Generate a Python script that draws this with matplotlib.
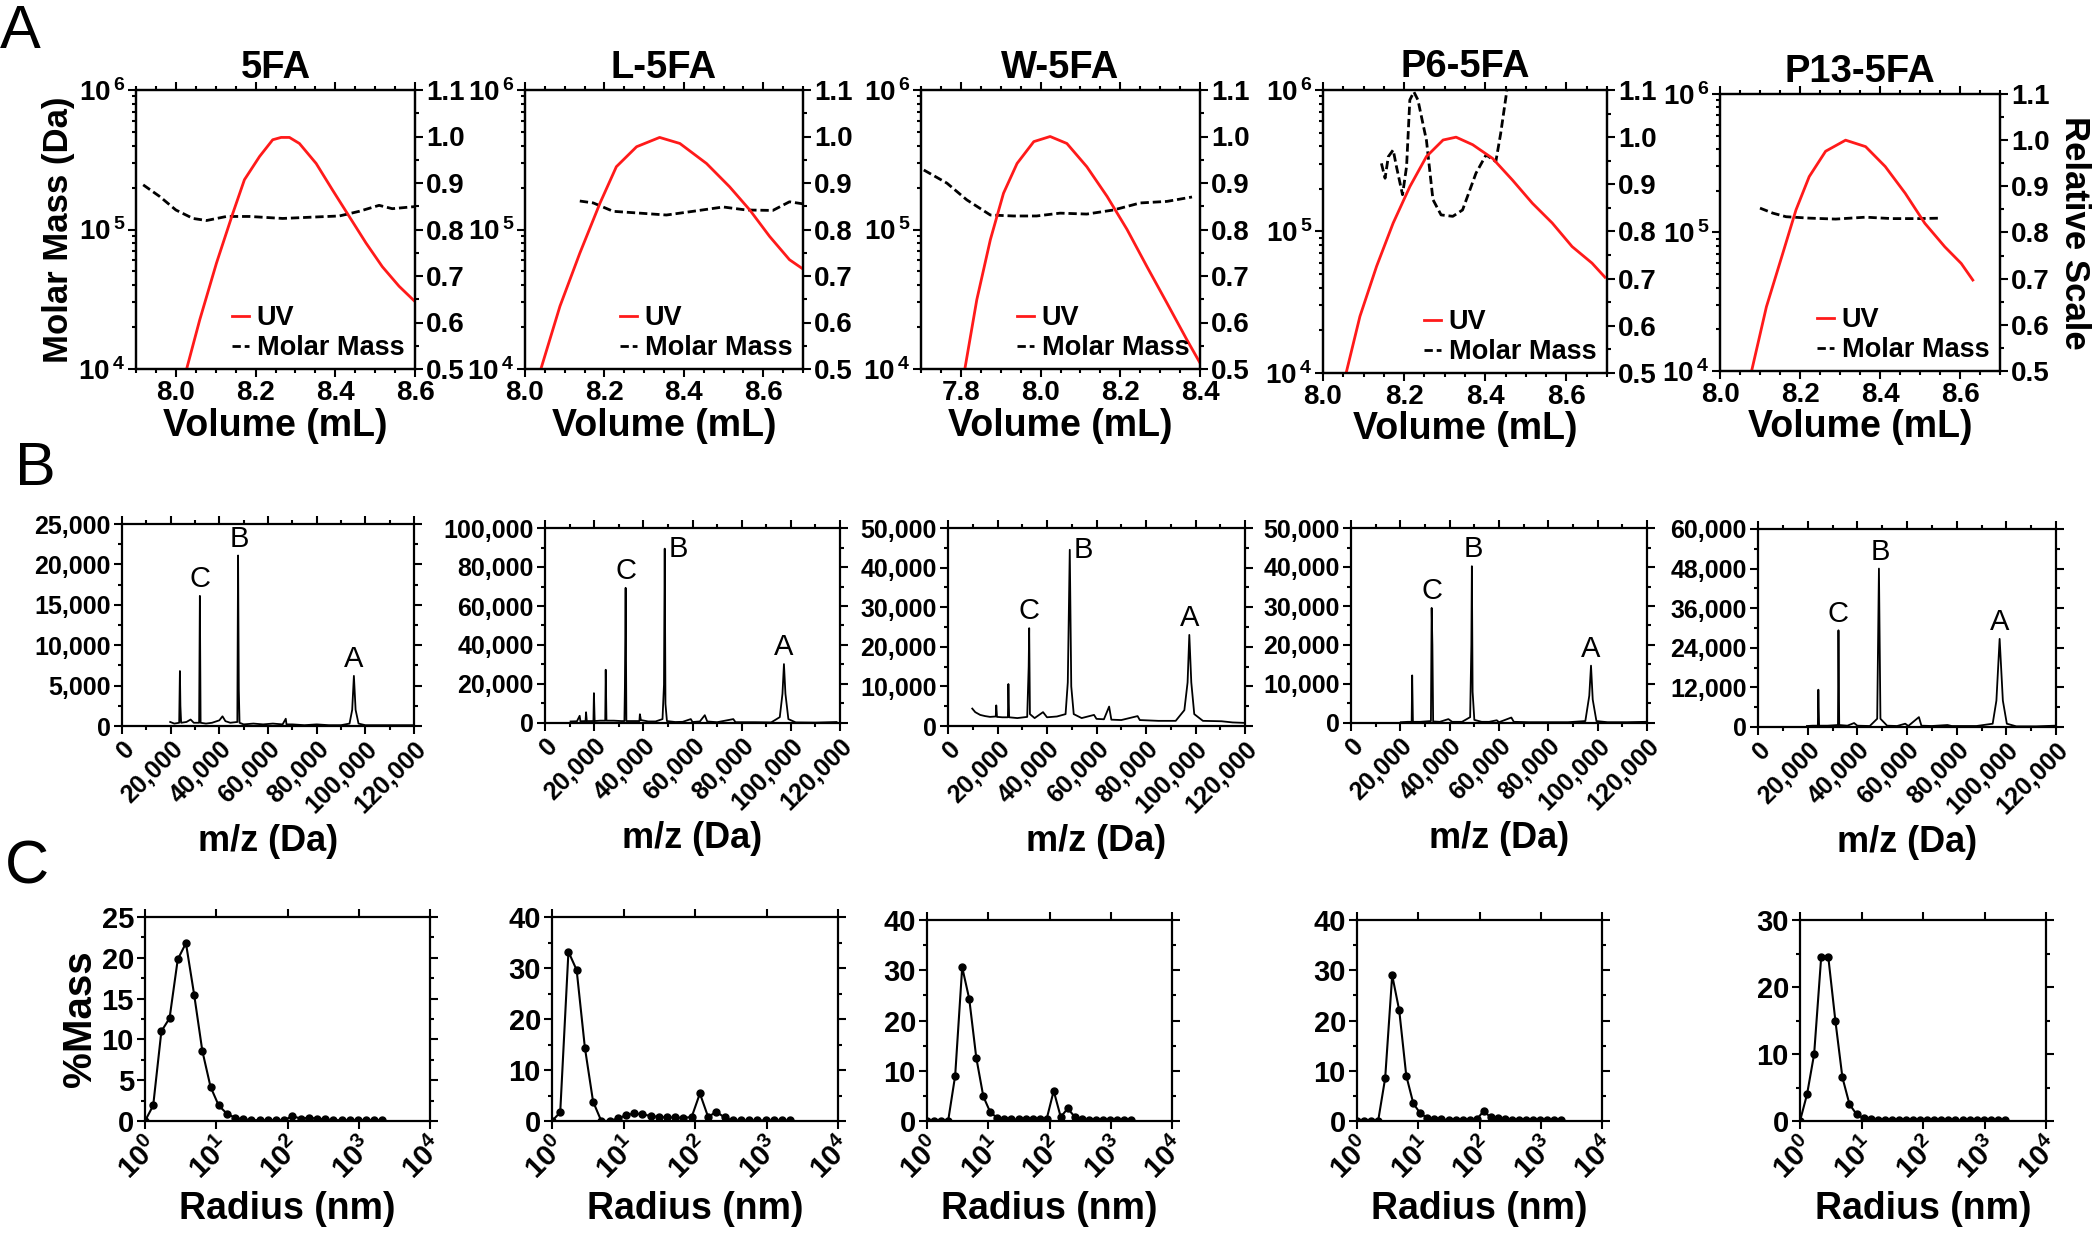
import matplotlib.pyplot as plt
from matplotlib.ticker import MultipleLocator, LogLocator, NullFormatter, FormatStrFormatter, FuncFormatter

plt.rcParams['font.family'] = ['Liberation Sans', 'DejaVu Sans']
plt.rcParams['font.weight'] = 'bold'
plt.rcParams['axes.labelweight'] = 'bold'
plt.rcParams['mathtext.fontset'] = 'custom'
plt.rcParams['mathtext.rm'] = 'Liberation Sans:bold'
plt.rcParams['mathtext.it'] = 'Liberation Sans:bold'
plt.rcParams['mathtext.bf'] = 'Liberation Sans:bold'
plt.rcParams['axes.linewidth'] = 1.6

samples = ['5FA', 'L-5FA', 'W-5FA', 'P6-5FA', 'P13-5FA']

# ---------- A: SEC-MALS (UV relative scale + molar mass) ----------
uv_x_5fa = [8.027, 8.06, 8.102, 8.143, 8.172, 8.21, 8.243, 8.264, 8.285, 8.31, 8.352, 8.393, 8.435, 8.477, 8.518, 8.56, 8.6]
uv_y_5fa = [0.5, 0.606, 0.728, 0.835, 0.907, 0.957, 0.993, 0.998, 0.998, 0.985, 0.942, 0.885, 0.828, 0.771, 0.72, 0.678, 0.645]
mm_x_5fa = [7.918, 7.96, 8.0, 8.043, 8.077, 8.127, 8.185, 8.268, 8.352, 8.41, 8.46, 8.51, 8.543, 8.6]
mm_y_5fa = [2.09e5, 1.72e5, 1.38e5, 1.2e5, 1.16e5, 1.24e5, 1.24e5, 1.2e5, 1.23e5, 1.25e5, 1.35e5, 1.49e5, 1.41e5, 1.46e5]

uv_x_l = [8.04, 8.088, 8.138, 8.189, 8.23, 8.281, 8.339, 8.39, 8.457, 8.515, 8.566, 8.616, 8.666, 8.7]
uv_y_l = [0.5, 0.635, 0.749, 0.857, 0.935, 0.978, 0.998, 0.985, 0.942, 0.892, 0.842, 0.785, 0.735, 0.715]
mm_x_l = [8.138, 8.172, 8.222, 8.289, 8.356, 8.423, 8.499, 8.557, 8.624, 8.666, 8.698]
mm_y_l = [1.6e5, 1.55e5, 1.35e5, 1.31e5, 1.27e5, 1.35e5, 1.45e5, 1.38e5, 1.37e5, 1.58e5, 1.53e5]

uv_x_w = [7.81, 7.84, 7.874, 7.907, 7.941, 7.983, 8.024, 8.066, 8.116, 8.167, 8.217, 8.267, 8.317, 8.367, 8.4]
uv_y_w = [0.5, 0.649, 0.778, 0.878, 0.942, 0.989, 1.0, 0.985, 0.935, 0.871, 0.8, 0.72, 0.642, 0.563, 0.513]
mm_x_w = [7.707, 7.765, 7.815, 7.874, 7.932, 7.99, 8.049, 8.116, 8.183, 8.25, 8.317, 8.38]
mm_y_w = [2.67e5, 2.15e5, 1.63e5, 1.27e5, 1.25e5, 1.25e5, 1.31e5, 1.29e5, 1.38e5, 1.55e5, 1.59e5, 1.71e5]

uv_x_p6 = [8.057, 8.091, 8.132, 8.173, 8.214, 8.255, 8.296, 8.328, 8.369, 8.418, 8.467, 8.516, 8.565, 8.614, 8.663, 8.695]
uv_y_p6 = [0.5, 0.62, 0.726, 0.818, 0.895, 0.959, 0.994, 1.0, 0.984, 0.955, 0.909, 0.86, 0.818, 0.768, 0.733, 0.703]
mm_x_p6 = [8.144, 8.153, 8.161, 8.173, 8.181, 8.196, 8.206, 8.214, 8.224, 8.234, 8.255, 8.271, 8.291, 8.32, 8.344, 8.377, 8.402, 8.426, 8.438, 8.451, 8.455]
mm_y_p6 = [3.03e5, 2.38e5, 3.38e5, 3.77e5, 2.88e5, 1.82e5, 2.88e5, 8.5e5, 9.7e5, 8.5e5, 4.4e5, 1.68e5, 1.31e5, 1.28e5, 1.42e5, 2.58e5, 3.48e5, 3.12e5, 4.94e5, 8.97e5, 1.1e6]

uv_x_p13 = [8.079, 8.116, 8.157, 8.19, 8.223, 8.264, 8.314, 8.364, 8.413, 8.463, 8.512, 8.562, 8.603, 8.632]
uv_y_p13 = [0.5, 0.639, 0.755, 0.849, 0.921, 0.976, 1.0, 0.986, 0.943, 0.885, 0.82, 0.769, 0.733, 0.697]
mm_x_p13 = [8.1, 8.132, 8.165, 8.223, 8.289, 8.364, 8.43, 8.496, 8.554]
mm_y_p13 = [1.5e5, 1.38e5, 1.3e5, 1.27e5, 1.25e5, 1.29e5, 1.26e5, 1.26e5, 1.27e5]

vol_lims = [(7.9, 8.6), (8.0, 8.7), (7.7, 8.4), (8.0, 8.7), (8.0, 8.7)]
vol_ticks = [[8.0, 8.2, 8.4, 8.6], [8.0, 8.2, 8.4, 8.6], [7.8, 8.0, 8.2, 8.4], [8.0, 8.2, 8.4, 8.6], [8.0, 8.2, 8.4, 8.6]]

# ---------- B: MALDI spectra ----------
mz_5fa = [19800, 21500, 23500, 23800, 24000, 24300, 26500, 28200, 29500, 31700, 32000, 32300, 34500, 37000, 40000, 41300, 42500, 44500,
          47400, 47700, 48000, 48300, 50000, 54000, 58000, 62000, 66000, 67300, 67600, 70000, 75000, 80000, 85000, 90000,
          93500, 94600, 95300, 96000, 97200, 100000, 106000, 112000, 119800]
int_5fa = [500, 300, 400, 6800, 2500, 400, 500, 800, 400, 400, 16100, 400, 300, 400, 700, 1200, 600, 400,
           500, 21100, 4500, 400, 200, 300, 200, 300, 200, 900, 200, 200, 100, 200, 100, 100,
           300, 2000, 6200, 2000, 300, 100, 100, 100, 100]

mz_l = [10400, 13000, 14100, 14400, 16500, 16700, 17000, 19700, 19900, 20200, 22500, 24500, 24700, 25000, 28000, 31000, 32300,
        32500, 32800, 33100, 36000, 38400, 38600, 39000, 42000, 45000, 47800, 48400, 48700, 49000, 49600, 53000, 56000,
        59300, 60000, 63000, 65000, 66000, 70000, 76600, 77500, 85000, 92000, 95500, 96600, 97200, 97800, 99000, 102000,
        110000, 118600]
int_l = [800, 900, 3700, 900, 1000, 5500, 1000, 1000, 15300, 1000, 1200, 1200, 27300, 1200, 1200, 1000, 1000,
         18000, 69300, 1000, 1000, 1000, 4500, 1500, 800, 800, 2000, 19600, 89400, 9800, 1000, 500, 600,
         2000, 500, 800, 4000, 800, 400, 2000, 400, 400, 300, 3000, 15000, 30200, 15000, 2000, 300,
         200, 500]

mz_w = [9800, 11000, 13000, 15000, 17000, 19300, 19500, 19800, 22000, 24200, 24400, 24700, 28000, 32000, 32600, 32800, 33100,
        35000, 38400, 40000, 44000, 47500, 48400, 49200, 49800, 50800, 54000, 59000, 60000, 63000, 65100, 66000, 70000,
        76600, 77500, 85000, 92000, 95500, 96800, 97500, 98300, 99500, 103000, 110500, 115000, 119300]
int_w = [4400, 3500, 2800, 2500, 2300, 2400, 5200, 2300, 2200, 2200, 10600, 2200, 2000, 2300, 15000, 24700, 3000,
         2000, 3500, 2200, 2400, 3000, 11000, 44500, 10000, 3000, 2000, 2800, 1800, 1700, 4900, 1600, 1500,
         2500, 1500, 1300, 1300, 4000, 11000, 23000, 11000, 3000, 1300, 1200, 900, 800]

mz_p6 = [20200, 23000, 24600, 24800, 25100, 28000, 32400, 32700, 33000, 33300, 36000, 39500, 41000, 45000, 48300, 48800,
         49000, 49300, 50000, 53000, 56000, 59100, 60000, 65000, 66000, 72000, 80000, 88000, 95000, 96600, 97300, 98000,
         99500, 104000, 112000, 119500]
int_p6 = [200, 300, 300, 12200, 300, 300, 500, 29500, 20000, 400, 300, 1000, 300, 300, 1500, 20000,
          40200, 8000, 800, 300, 300, 700, 200, 1400, 300, 200, 200, 200, 500, 7000, 14700, 6000,
          500, 200, 200, 300]

mz_p13 = [19700, 22000, 24100, 24300, 24600, 28000, 32200, 32400, 32700, 36000, 38700, 40000, 45000, 48000, 48700, 49300,
          52000, 56000, 59300, 60500, 64800, 65800, 70000, 76300, 78000, 88000, 94500, 96000, 97300, 98600, 100200,
          104000, 112000, 119800]
int_p13 = [300, 400, 400, 11300, 400, 400, 600, 29300, 600, 400, 1200, 400, 300, 2500, 48000, 2500,
           400, 300, 1000, 300, 3000, 400, 300, 600, 300, 300, 1000, 8000, 26700, 8000, 1000,
           200, 200, 400]

ms_ymax = [25000, 100000, 50000, 50000, 60000]
ms_ystep = [5000, 20000, 10000, 10000, 12000]
peak_a = [95300, 97200, 97500, 97300, 97300]
peak_b = [47700, 48700, 49200, 49000, 48700]
peak_c = [32000, 32800, 32800, 32700, 32400]

# ---------- C: DLS mass distributions ----------
radius = [1.0, 1.303, 1.698, 2.212, 2.882, 3.755, 4.893, 6.375, 8.306, 10.82, 14.10, 18.37, 23.94, 31.19, 40.64,
          52.95, 68.99, 89.89, 117.1, 152.6, 198.8, 259.1, 337.5, 439.8, 573.0, 746.6, 972.7, 1267, 1651, 2152]
mass_5fa = [0, 1.9, 11.0, 12.6, 19.8, 21.8, 15.5, 8.6, 4.2, 1.9, 0.9, 0.4, 0.2, 0.1, 0.1,
            0.1, 0.1, 0.1, 0.6, 0.3, 0.4, 0.3, 0.2, 0.1, 0.1, 0.1, 0.1, 0.1, 0.1, 0.1]
mass_l = [0, 1.7, 33.2, 29.6, 14.4, 3.8, 0, 0, 0.5, 1.1, 1.5, 1.3, 1.0, 0.8, 0.7,
          0.7, 0.6, 0.8, 5.4, 0.8, 1.8, 0.7, 0.1, 0.1, 0.1, 0.1, 0.1, 0.1, 0.1, 0.1]
mass_w = [0, 0, 0, 0, 9.0, 30.6, 24.3, 12.6, 4.9, 1.7, 0.6, 0.4, 0.3, 0.3, 0.3,
          0.3, 0.3, 0.4, 6.0, 0.8, 2.5, 0.8, 0.3, 0.1, 0.1, 0.1, 0.1, 0.1, 0.1, 0.1]
mass_p6 = [0, 0, 0, 0, 8.5, 29.0, 22.0, 9.0, 3.5, 1.5, 0.6, 0.4, 0.3, 0.2, 0.2,
           0.2, 0.2, 0.3, 2.0, 0.7, 0.6, 0.3, 0.1, 0.1, 0.1, 0.1, 0.1, 0.1, 0.1, 0.1]
mass_p13 = [0, 4.0, 10.0, 24.5, 24.5, 15.0, 6.5, 2.5, 1.0, 0.4, 0.3, 0.2, 0.2, 0.1, 0.1,
            0.1, 0.1, 0.1, 0.2, 0.2, 0.1, 0.1, 0.1, 0.1, 0.1, 0.1, 0.1, 0.1, 0.1, 0.1]
dls_ymax = [25, 40, 40, 40, 30]
dls_ystep = [5, 10, 10, 10, 10]

uv_x = [uv_x_5fa, uv_x_l, uv_x_w, uv_x_p6, uv_x_p13]
uv_y = [uv_y_5fa, uv_y_l, uv_y_w, uv_y_p6, uv_y_p13]
mm_x = [mm_x_5fa, mm_x_l, mm_x_w, mm_x_p6, mm_x_p13]
mm_y = [mm_y_5fa, mm_y_l, mm_y_w, mm_y_p6, mm_y_p13]
mz = [mz_5fa, mz_l, mz_w, mz_p6, mz_p13]
inten = [int_5fa, int_l, int_w, int_p6, int_p13]
mass = [mass_5fa, mass_l, mass_w, mass_p6, mass_p13]

W, H = 2097, 1247
fig = plt.figure(figsize=(W / 100, H / 100), dpi=100)


def box(l, r, t, b):
    return [l / W, 1 - b / H, (r - l) / W, (b - t) / H]


def slant(ax):
    for lab in ax.get_xticklabels():
        lab.set_rotation(45)
        lab.set_ha('right')
        lab.set_rotation_mode('anchor')


# pixel boxes of the 15 axes
boxes_a = [(136, 415, 90, 369), (525, 803, 90, 369), (921, 1200, 90, 369), (1323, 1607, 90, 373), (1720, 2000, 94, 371)]
boxes_b = [(122, 414, 524, 726), (545, 840, 528, 723), (948, 1245, 528, 726), (1351, 1647, 528, 723), (1758, 2056, 529, 727)]
boxes_c = [(145, 430, 917, 1121), (552, 838, 917, 1121), (927, 1172, 920, 1121), (1357, 1602, 920, 1121), (1800, 2046, 920, 1121)]

tk = dict(direction='out', width=1.5)

# row A
for i in range(5):
    ax = fig.add_axes(box(*boxes_a[i]))
    ax.set_yscale('log')
    ax.set_ylim(1e4, 1e6)
    ax.set_xlim(*vol_lims[i])
    ax2 = ax.twinx()
    ax2.set_ylim(0.5, 1.1)
    l2, = ax.plot(mm_x[i], mm_y[i], color='k', ls=(0, (3, 1.4)), lw=2)
    l1, = ax2.plot(uv_x[i], uv_y[i], color='#ff1a1a', lw=2)
    ax.set_yticks([1e4, 1e5, 1e6])
    ax.set_yticklabels(['10$^{\\,4}$', '10$^{\\,5}$', '10$^{\\,6}$'])
    ax.yaxis.set_minor_locator(LogLocator(subs=range(2, 10)))
    ax.yaxis.set_minor_formatter(NullFormatter())
    ax.set_xticks(vol_ticks[i])
    ax.xaxis.set_major_formatter(FormatStrFormatter('%.1f'))
    ax.xaxis.set_minor_locator(MultipleLocator(0.05))
    ax.tick_params(which='major', length=6, labelsize=20, pad=2, top=True, **tk)
    ax.tick_params(which='minor', length=3, top=True, **tk)
    ax2.yaxis.set_major_locator(MultipleLocator(0.1))
    ax2.yaxis.set_minor_locator(MultipleLocator(0.05))
    ax2.yaxis.set_major_formatter(FormatStrFormatter('%.1f'))
    ax2.tick_params(which='major', length=6, labelsize=20, pad=2, **tk)
    ax2.tick_params(which='minor', length=3, **tk)
    ax.set_title(samples[i], fontsize=27.5, fontweight='bold', pad=9)
    ax.set_xlabel('Volume (mL)', fontsize=27, labelpad=1)
    if i == 0:
        ax.set_ylabel('Molar Mass (Da)', fontsize=25, labelpad=2)
    if i == 4:
        ax2.set_ylabel('Relative Scale', fontsize=25, rotation=270, va='bottom', labelpad=6)
    ax2.legend([l1, l2], ['UV', 'Molar Mass'], loc='lower right', bbox_to_anchor=(1.02, -0.03),
               frameon=False, fontsize=19.5, handlelength=0.6, handletextpad=0.3, labelspacing=0.15,
               borderaxespad=0.2)

# row B
for i in range(5):
    ax = fig.add_axes(box(*boxes_b[i]))
    ax.plot(mz[i], inten[i], color='k', lw=1.3)
    ax.set_xlim(0, 120000)
    ax.set_ylim(0, ms_ymax[i])
    ax.set_xticks(range(0, 120001, 20000))
    ax.xaxis.set_minor_locator(MultipleLocator(10000))
    ax.yaxis.set_major_locator(MultipleLocator(ms_ystep[i]))
    ax.yaxis.set_minor_locator(MultipleLocator(ms_ystep[i] / 2))
    ax.xaxis.set_major_formatter(FuncFormatter(lambda v, p: '{:,}'.format(int(v))))
    ax.yaxis.set_major_formatter(FuncFormatter(lambda v, p: '{:,}'.format(int(v))))
    ax.tick_params(which='major', length=6, labelsize=18, pad=2, top=True, right=True, **tk)
    ax.tick_params(which='minor', length=3, top=True, right=True, **tk)
    slant(ax)
    ax.set_xlabel('m/z (Da)', fontsize=26, labelpad=4)
    for name, pk in (('C', peak_c[i]), ('A', peak_a[i])):
        h = inten[i][mz[i].index(pk)]
        ax.annotate(name, (pk, h), xytext=(0, 2), textcoords='offset points', ha='center', va='bottom',
                    fontsize=21, fontweight='normal')
    h = inten[i][mz[i].index(peak_b[i])]
    if i in (1, 2):
        ax.annotate('B', (peak_b[i], h), xytext=(3, 0), textcoords='offset points', ha='left', va='center',
                    fontsize=21, fontweight='normal')
    else:
        ax.annotate('B', (peak_b[i], h), xytext=(1, 2), textcoords='offset points', ha='center', va='bottom',
                    fontsize=21, fontweight='normal')

# row C
for i in range(5):
    ax = fig.add_axes(box(*boxes_c[i]))
    ax.plot(radius, mass[i], 'k-o', ms=5, lw=1.5)
    ax.set_xscale('log')
    ax.set_xlim(1, 1e4)
    ax.set_ylim(0, dls_ymax[i])
    ax.set_xticks([1, 10, 100, 1000, 10000])
    ax.set_xticklabels(['10$^{0}$', '10$^{1}$', '10$^{2}$', '10$^{3}$', '10$^{4}$'])
    ax.xaxis.set_minor_locator(LogLocator(subs=range(2, 10)))
    ax.xaxis.set_minor_formatter(NullFormatter())
    ax.yaxis.set_major_locator(MultipleLocator(dls_ystep[i]))
    ax.yaxis.set_minor_locator(MultipleLocator(dls_ystep[i] / 2))
    ax.tick_params(which='major', length=6, labelsize=21, pad=2, top=True, right=True, **tk)
    ax.tick_params(which='minor', length=3, top=True, right=True, **tk)
    slant(ax)
    ax.set_xlabel('Radius (nm)', fontsize=27, labelpad=4)
    if i == 0:
        ax.set_ylabel('%Mass', fontsize=29, labelpad=2)

fig.text(0 / W, 1 - 48 / H, 'A', fontsize=44, fontweight='normal', va='baseline')
fig.text(15 / W, 1 - 485 / H, 'B', fontsize=44, fontweight='normal', va='baseline')
fig.text(5 / W, 1 - 883 / H, 'C', fontsize=44, fontweight='normal', va='baseline')

fig.savefig('out.png', dpi=100)
